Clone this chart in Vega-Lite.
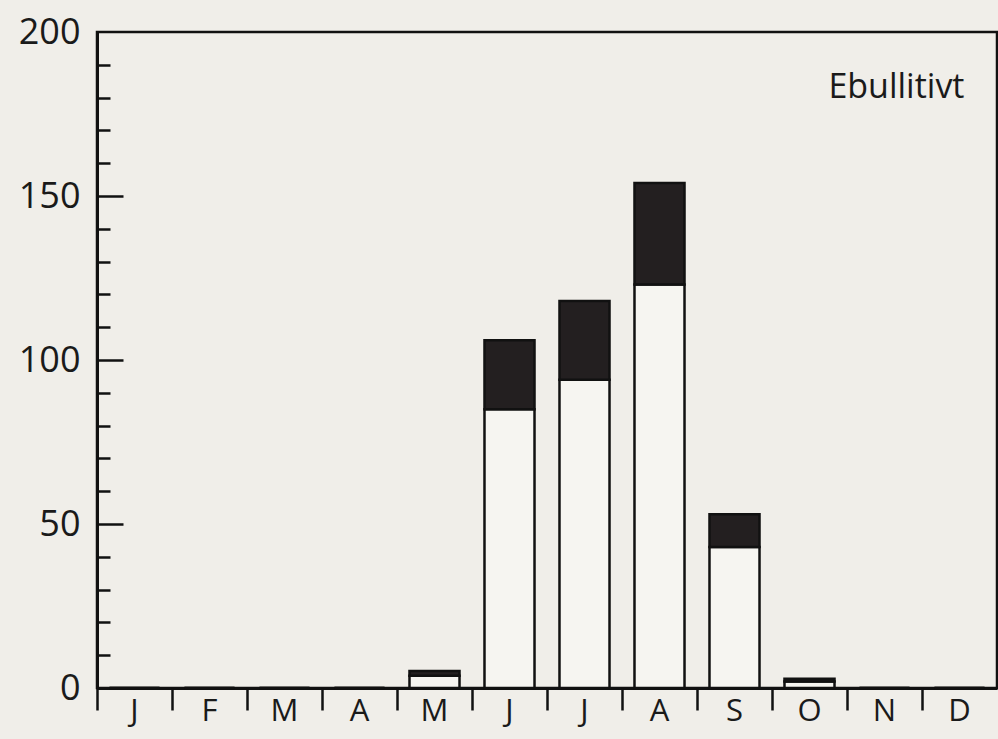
{
  "$schema": "https://vega.github.io/schema/vega-lite/v6.json",
  "width": 900,
  "height": 656,
  "autosize": {"type": "none"},
  "padding": {"left": 97, "top": 32, "right": 1, "bottom": 51},
  "background": "#f0eee9",
  "config": {
    "view": {"stroke": "#111111", "strokeWidth": 2.5},
    "font": "Open Sans",
    "axis": {"grid": false, "domainColor": "#111111", "tickColor": "#111111", "labelColor": "#1a1a1a"}
  },
  "datasets": {
    "bars": [
      {"month": "Jan", "part": "lower", "o": 1, "value": 0},
      {"month": "Jan", "part": "upper", "o": 2, "value": 0},
      {"month": "Feb", "part": "lower", "o": 1, "value": 0},
      {"month": "Feb", "part": "upper", "o": 2, "value": 0},
      {"month": "Mar", "part": "lower", "o": 1, "value": 0},
      {"month": "Mar", "part": "upper", "o": 2, "value": 0},
      {"month": "Apr", "part": "lower", "o": 1, "value": 0},
      {"month": "Apr", "part": "upper", "o": 2, "value": 0},
      {"month": "May", "part": "lower", "o": 1, "value": 3.7},
      {"month": "May", "part": "upper", "o": 2, "value": 1.5},
      {"month": "Jun", "part": "lower", "o": 1, "value": 85},
      {"month": "Jun", "part": "upper", "o": 2, "value": 21},
      {"month": "Jul", "part": "lower", "o": 1, "value": 94},
      {"month": "Jul", "part": "upper", "o": 2, "value": 24},
      {"month": "Aug", "part": "lower", "o": 1, "value": 123},
      {"month": "Aug", "part": "upper", "o": 2, "value": 31},
      {"month": "Sep", "part": "lower", "o": 1, "value": 43},
      {"month": "Sep", "part": "upper", "o": 2, "value": 10},
      {"month": "Oct", "part": "lower", "o": 1, "value": 2},
      {"month": "Oct", "part": "upper", "o": 2, "value": 0.8},
      {"month": "Nov", "part": "lower", "o": 1, "value": 0},
      {"month": "Nov", "part": "upper", "o": 2, "value": 0},
      {"month": "Dec", "part": "lower", "o": 1, "value": 0},
      {"month": "Dec", "part": "upper", "o": 2, "value": 0}
    ],
    "label": [{"t": "Ebullitivt"}]
  },
  "layer": [
    {
      "data": {"name": "bars"},
      "mark": {"type": "bar", "width": {"band": 0.667}, "stroke": "#111111", "strokeWidth": 2.5},
      "encoding": {
        "x": {
          "field": "month", "type": "ordinal",
          "sort": ["Jan","Feb","Mar","Apr","May","Jun","Jul","Aug","Sep","Oct","Nov","Dec"],
          "scale": {"paddingInner": 0, "paddingOuter": 0},
          "axis": {"orient": "bottom", "title": null, "ticks": false, "domainWidth": 3, "labelAngle": 0, "labelFontSize": 31, "labelPadding": 8, "labelExpr": "substring(datum.label, 0, 1)"}
        },
        "y": {
          "field": "value", "type": "quantitative", "stack": true,
          "scale": {"domain": [0, 200], "nice": false},
          "axis": {"orient": "left", "title": null, "values": [0, 50, 100, 150, 200], "ticks": false, "domainWidth": 3, "labelFontSize": 36, "labelPadding": 17}
        },
        "fill": {"field": "part", "type": "nominal", "scale": {"domain": ["lower", "upper"], "range": ["#f6f5f1", "#231f20"]}, "legend": null},
        "order": {"field": "o"}
      }
    },
    {
      "data": {"name": "bars"},
      "mark": {"type": "bar", "opacity": 0},
      "encoding": {
        "x": {
          "field": "month", "type": "ordinal",
          "sort": ["Jan","Feb","Mar","Apr","May","Jun","Jul","Aug","Sep","Oct","Nov","Dec"],
          "axis": {"orient": "bottom", "title": null, "labels": false, "domain": false, "bandPosition": 0, "tickSize": 22, "tickWidth": 2.5}
        },
        "y": {
          "field": "value", "type": "quantitative",
          "axis": {"orient": "left", "title": null, "labels": false, "domain": false, "values": [50, 100, 150], "tickSize": -26, "tickWidth": 2.5}
        }
      }
    },
    {
      "data": {"name": "bars"},
      "mark": {"type": "bar", "opacity": 0},
      "encoding": {
        "x": {
          "field": "month", "type": "ordinal",
          "sort": ["Jan","Feb","Mar","Apr","May","Jun","Jul","Aug","Sep","Oct","Nov","Dec"],
          "axis": null
        },
        "y": {
          "field": "value", "type": "quantitative",
          "axis": {"orient": "left", "title": null, "labels": false, "domain": false, "values": [10, 20, 30, 40, 60, 70, 80, 90, 110, 120, 130, 140, 160, 170, 180, 190], "tickSize": -13, "tickWidth": 2.5}
        }
      }
    },
    {
      "data": {"name": "label"},
      "mark": {"type": "text", "align": "right", "baseline": "middle", "fontSize": 34, "dx": 5, "color": "#1a1a1a"},
      "encoding": {
        "x": {"datum": "Dec", "type": "ordinal", "axis": null},
        "y": {"datum": 183, "type": "quantitative", "axis": null},
        "text": {"field": "t"}
      }
    }
  ],
  "resolve": {"axis": {"x": "independent", "y": "independent"}}
}
